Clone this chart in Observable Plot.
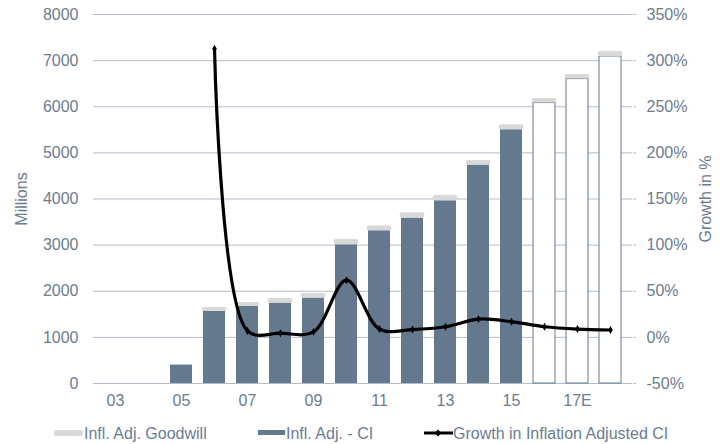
<!DOCTYPE html>
<html>
<head>
<meta charset="utf-8">
<script src="https://cdn.jsdelivr.net/npm/d3@7"></script>
<script src="https://cdn.jsdelivr.net/npm/@observablehq/plot@0.6"></script>
<style>
  body { margin: 0; background: #fff; font-family: "Liberation Sans", Arial, sans-serif; }
  #wrap { position: relative; width: 727px; height: 444px; overflow: hidden; }
  #legend { position: absolute; left: 0; top: 424px; width: 727px; height: 20px; }
  .item { position: absolute; top: 0; height: 20px; line-height: 20px; font-size: 16px; color: #6b7c91; white-space: nowrap; }
  .sw { position: absolute; }
</style>
</head>
<body>
<div id="wrap">
  <div id="chart"></div>
  <div id="legend">
    <div class="sw" style="left:54px;top:6px;width:29px;height:6px;background:#d9d9d9;border-radius:2px;"></div>
    <div class="item" style="left:84px;">Infl. Adj. Goodwill</div>
    <div class="sw" style="left:258px;top:6px;width:27px;height:5px;background:#64788e;"></div>
    <div class="item" style="left:286px;">Infl. Adj. - CI</div>
    <svg class="sw" style="left:424px;top:0px;" width="29" height="20">
      <line x1="0" x2="29" y1="9" y2="9" stroke="#000" stroke-width="3"/>
      <path d="M14,5.5 L17.5,9 L14,12.5 L10.5,9 Z" fill="#000"/>
    </svg>
    <div class="item" style="left:453px;">Growth in Inflation Adjusted CI</div>
  </div>
</div>
<script>
// Fiscal years (two-digit), estimates marked with "E"
const years = ["03","04","05","06","07","08","09","10","11","12","13","14","15","16E","17E","18E"];
const tickLabels = ["03","05","07","09","11","13","15","17E"];

// Inflation adjusted CI, millions (actuals)
const ciActual = [null, null, 399, 1561, 1670, 1743, 1852, 3007, 3311, 3586, 3961, 4735, 5501, null, null, null];
// Inflation adjusted CI, millions (estimates)
const ciEstimate = [null, null, null, null, null, null, null, null, null, null, null, null, null, 6080, 6600, 7090];
// Inflation adjusted goodwill, millions, stacked on top of CI
const goodwill = [null, null, 0, 87, 86, 100, 99, 115, 102, 115, 115, 100, 108, 100, 100, 109];
// Growth in inflation adjusted CI, percent
const growth = [null, null, null, 313, 7, 4.5, 6, 62, 9, 8.5, 11.5, 19.8, 17, 11.5, 9, 8];

const leftTicks = [0, 1000, 2000, 3000, 4000, 5000, 6000, 7000, 8000];
const rightTicks = [-50, 0, 50, 100, 150, 200, 250, 300, 350];

// the percent axis shares the millions scale: -50% ↔ 0, 350% ↔ 8000
const pctToY = p => (p + 50) * 20;
const yToPct = y => y / 20 - 50;

const barColor = "#64788e";
const gridColor = "#b3bdc9";
const textColor = "#6b7c91";

const actual = years.map((year, i) => ({year, ci: ciActual[i]})).filter(d => d.ci != null);
const estimate = years.map((year, i) => ({year, ci: ciEstimate[i]})).filter(d => d.ci != null);
const caps = years.map((year, i) => {
  const base = ciActual[i] ?? ciEstimate[i];
  return {year, y1: base, y2: base + (goodwill[i] ?? 0)};
}).filter(d => d.y1 != null && d.y2 > d.y1);
const growthPts = years.map((year, i) => ({year, g: growth[i]})).filter(d => d.g != null);

const chart = Plot.plot({
  width: 727,
  height: 420,
  marginTop: 14,
  marginBottom: 37,
  marginLeft: 93,
  marginRight: 95,
  style: {fontFamily: "'Liberation Sans', Arial, sans-serif", fontSize: "16px", color: textColor, background: "#fff"},
  x: {domain: years, paddingInner: 0.32, paddingOuter: 0.16, label: null},
  y: {domain: [0, 8000], label: null},
  marks: [
    Plot.ruleY(leftTicks, {stroke: gridColor, strokeWidth: 1}),
    Plot.barY(actual, {x: "year", y: "ci", fill: barColor}),
    Plot.barY(estimate, {x: "year", y: "ci", fill: "#fff", stroke: barColor, strokeWidth: 1}),
    Plot.rectY(caps, {x: "year", y1: "y1", y2: "y2", fill: "#d9d9d9", rx: 2, insetLeft: -1.3, insetRight: -1.3}),
    Plot.line(growthPts, {x: "year", y: d => pctToY(d.g), stroke: "#000", strokeWidth: 3.2, curve: "catmull-rom"}),
    Plot.dot(growthPts, {x: "year", y: d => pctToY(d.g), symbol: "diamond", r: 2.4, fill: "#000"}),
    Plot.axisX({ticks: tickLabels, tickSize: 0, tickPadding: 11, label: null}),
    Plot.axisY({anchor: "left", ticks: leftTicks, tickFormat: d => String(d), tickSize: 0, tickPadding: 15, label: "Millions", labelAnchor: "center", labelArrow: "none", labelOffset: 78}),
    Plot.axisY({anchor: "right", ticks: rightTicks.map(pctToY), tickFormat: d => `${yToPct(d)}%`, tickSize: 3, stroke: gridColor, tickPadding: 11, label: "Growth in %", labelAnchor: "center", labelArrow: "none", labelOffset: 78})
  ]
});
document.getElementById("chart").appendChild(chart);
</script>
</body>
</html>
